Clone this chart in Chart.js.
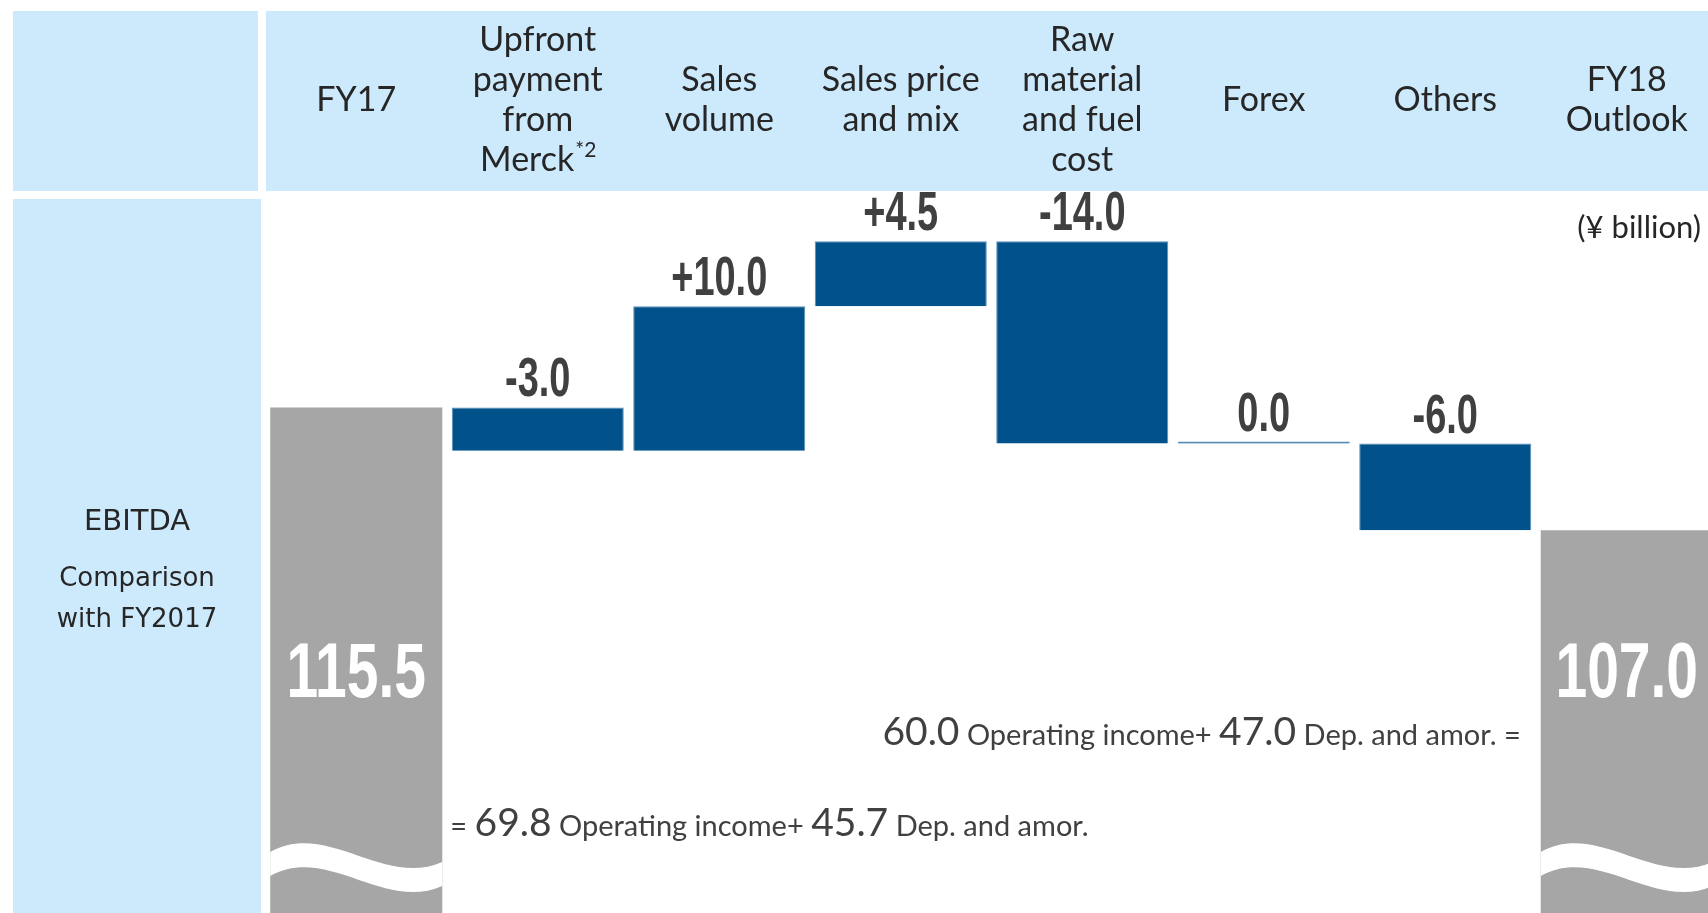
<!DOCTYPE html>
<html>
<head>
<meta charset="utf-8">
<script src="https://cdn.jsdelivr.net/npm/chart.js@4.4.1/dist/chart.umd.min.js"></script>
<style>
	html, body { margin: 0; padding: 0; background: #fff; overflow: hidden; }
	#wrap { position: relative; width: 1708px; height: 913px; overflow: hidden; }
	#ebitda-chart { position: absolute; left: 0; top: 0; }
</style>
</head>
<body>
<div id="wrap"><canvas id="ebitda-chart" width="1720" height="913"></canvas></div>
<script>
	'use strict';

	var categories = [
		[ 'FY17' ],
		[ 'Upfront', 'payment', 'from', 'Merck' ],
		[ 'Sales', 'volume' ],
		[ 'Sales price', 'and mix' ],
		[ 'Raw', 'material', 'and fuel', 'cost' ],
		[ 'Forex' ],
		[ 'Others' ],
		[ 'FY18', 'Outlook' ]
	];
	var footnotes = [ '', '*2', '', '', '', '', '', '' ];
	var startValue = 115.5;
	var endValue = 107.0;
	var changes = [ null, -3.0, 10.0, 4.5, -14.0, 0.0, -6.0, null ];
	var fy18Breakdown = [ 60.0, 47.0 ];
	var fy17Breakdown = [ 69.8, 45.7 ];
	var breakdownLabels = [ 'Operating income+', 'Dep. and amor.' ];
	var yMin = 80.5;
	var yMax = 130;

	var last = categories.length - 1;
	var totals = categories.map( function ( c, i ) {
		if ( i === 0 ) { return startValue; }
		if ( i === last ) { return endValue; }
		return null;
	} );
	var steps = [];
	var running = startValue;
	changes.forEach( function ( v ) {
		if ( v === null ) { steps.push( null ); return; }
		steps.push( [ running, running + v ] );
		running += v;
	} );

	var textDark = '#262626';
	var labelGrey = '#404040';

	function fmt( v ) {
		var s = Math.abs( v ).toFixed( 1 );
		if ( v > 0 ) { return '+' + s; }
		if ( v < 0 ) { return '-' + s; }
		return s;
	}

	// bold condensed look, squeezed sideways
	function drawNarrow( ctx, text, x, y, size, squeeze, color ) {
		ctx.save();
		ctx.translate( x, y );
		ctx.scale( squeeze, 1 );
		ctx.font = 'bold ' + size + 'px "Liberation Sans", Arial, sans-serif';
		ctx.fillStyle = color;
		ctx.textAlign = 'center';
		ctx.textBaseline = 'alphabetic';
		ctx.fillText( text, 0, 0 );
		ctx.restore();
	}

	function drawRun( ctx, parts, x, y, align ) {
		var total = 0;
		parts.forEach( function ( p ) {
			ctx.font = p[1] + 'px Lato, sans-serif';
			total += ctx.measureText( p[0] ).width;
		} );
		var cx = align === 'right' ? x - total : x;
		ctx.textAlign = 'left';
		ctx.textBaseline = 'alphabetic';
		parts.forEach( function ( p ) {
			ctx.font = p[1] + 'px Lato, sans-serif';
			ctx.fillText( p[0], cx, y );
			cx += ctx.measureText( p[0] ).width;
		} );
	}

	var panelPlugin = {
		id: 'panels',
		beforeDraw: function ( chart ) {
			var ctx = chart.ctx;
			var x = chart.scales.x;
			ctx.save();
			ctx.fillStyle = '#cdeafd';
			ctx.fillRect( 13, 11, 245, 180 );
			ctx.fillRect( 266, 11, chart.width - 266, 180 );
			ctx.fillRect( 13, 199, 248, 714 );

			// header labels
			ctx.fillStyle = textDark;
			ctx.textAlign = 'center';
			ctx.textBaseline = 'middle';
			categories.forEach( function ( lines, i ) {
				var cx = x.getPixelForValue( i );
				var lh = 40;
				var y0 = 100 - ( lines.length - 1 ) * lh / 2;
				lines.forEach( function ( line, j ) {
					var y = y0 + j * lh;
					ctx.font = '34px Lato, sans-serif';
					if ( j === lines.length - 1 && footnotes[i] ) {
						var w1 = ctx.measureText( line ).width;
						ctx.font = '21px Lato, sans-serif';
						var w2 = ctx.measureText( footnotes[i] ).width;
						var left = cx - ( w1 + w2 ) / 2;
						ctx.textAlign = 'left';
						ctx.font = '34px Lato, sans-serif';
						ctx.fillText( line, left, y );
						ctx.font = '21px Lato, sans-serif';
						ctx.fillText( footnotes[i], left + w1 + 1, y - 10 );
						ctx.textAlign = 'center';
					} else {
						ctx.fillText( line, cx, y );
					}
				} );
			} );

			// side panel
			ctx.font = '29px "DejaVu Sans", sans-serif';
			ctx.fillText( 'EBITDA', 137, 522 );
			ctx.font = '26px "DejaVu Sans", sans-serif';
			ctx.fillText( 'Comparison', 137, 579 );
			ctx.fillText( 'with FY2017', 137, 620 );

			ctx.textAlign = 'right';
			ctx.font = '31px Lato, sans-serif';
			ctx.fillText( '(\u00a5 billion)', 1701, 228 );
			ctx.restore();
		},
		afterDatasetsDraw: function ( chart ) {
			var ctx = chart.ctx;
			var totalMeta = chart.getDatasetMeta( 0 );
			var stepMeta = chart.getDatasetMeta( 1 );
			ctx.save();

			// wave breaks on the total bars
			totalMeta.data.forEach( function ( bar, i ) {
				if ( totals[i] === null ) { return; }
				var L = bar.x - bar.width / 2;
				var R = bar.x + bar.width / 2;
				var w = R - L;
				var y0 = 852;
				var band = 24;
				ctx.beginPath();
				ctx.moveTo( L, y0 );
				ctx.bezierCurveTo( L + 0.33 * w, y0 - 32, L + 0.66 * w, y0 + 36, R, y0 + 10 );
				ctx.lineTo( R, y0 + 10 + band );
				ctx.bezierCurveTo( L + 0.66 * w, y0 + 36 + band, L + 0.33 * w, y0 - 32 + band, L, y0 + band );
				ctx.closePath();
				ctx.fillStyle = '#ffffff';
				ctx.fill();
				drawNarrow( ctx, totals[i].toFixed( 1 ), bar.x, 697, 77, 0.74, '#ffffff' );
			} );

			stepMeta.data.forEach( function ( bar, i ) {
				if ( changes[i] === null ) { return; }
				var top = Math.min( bar.y, bar.base );
				drawNarrow( ctx, fmt( changes[i] ), bar.x, top - 11, 55, 0.69, labelGrey );
			} );

			// EBITDA breakdown notes
			ctx.fillStyle = labelGrey;
			var fy18Left = totalMeta.data[last].x - totalMeta.data[last].width / 2;
			var fy17Right = totalMeta.data[0].x + totalMeta.data[0].width / 2;
			drawRun( ctx, [
				[ fy18Breakdown[0].toFixed( 1 ), 39 ],
				[ ' ' + breakdownLabels[0] + ' ', 29 ],
				[ fy18Breakdown[1].toFixed( 1 ), 39 ],
				[ ' ' + breakdownLabels[1] + ' =', 29 ]
			], fy18Left - 20, 745, 'right' );
			drawRun( ctx, [
				[ '= ', 29 ],
				[ fy17Breakdown[0].toFixed( 1 ), 39 ],
				[ ' ' + breakdownLabels[0] + ' ', 29 ],
				[ fy17Breakdown[1].toFixed( 1 ), 39 ],
				[ ' ' + breakdownLabels[1], 29 ]
			], fy17Right + 8, 836, 'left' );
			ctx.restore();
		}
	};

	new Chart( document.getElementById( 'ebitda-chart' ), {
		type: 'bar',
		data: {
			labels: categories.map( function ( c ) { return c.join( ' ' ); } ),
			datasets: [
				{
					label: 'Total',
					data: totals,
					backgroundColor: '#a6a6a6',
					borderWidth: 0,
					grouped: false,
					barPercentage: 0.948,
					categoryPercentage: 1
				},
				{
					label: 'Change',
					data: steps,
					backgroundColor: '#01528a',
					borderColor: '#5b8fb8',
					borderWidth: 1,
					minBarLength: 2,
					grouped: false,
					barPercentage: 0.948,
					categoryPercentage: 1
				}
			]
		},
		options: {
			responsive: false,
			animation: false,
			devicePixelRatio: 1,
			layout: {
				padding: { left: 265.5, right: 2.5, top: 198, bottom: 0 }
			},
			plugins: {
				legend: { display: false },
				tooltip: { enabled: false }
			},
			scales: {
				x: { display: false },
				y: { display: false, min: yMin, max: yMax }
			}
		},
		plugins: [ panelPlugin ]
	} );
</script>
</body>
</html>
